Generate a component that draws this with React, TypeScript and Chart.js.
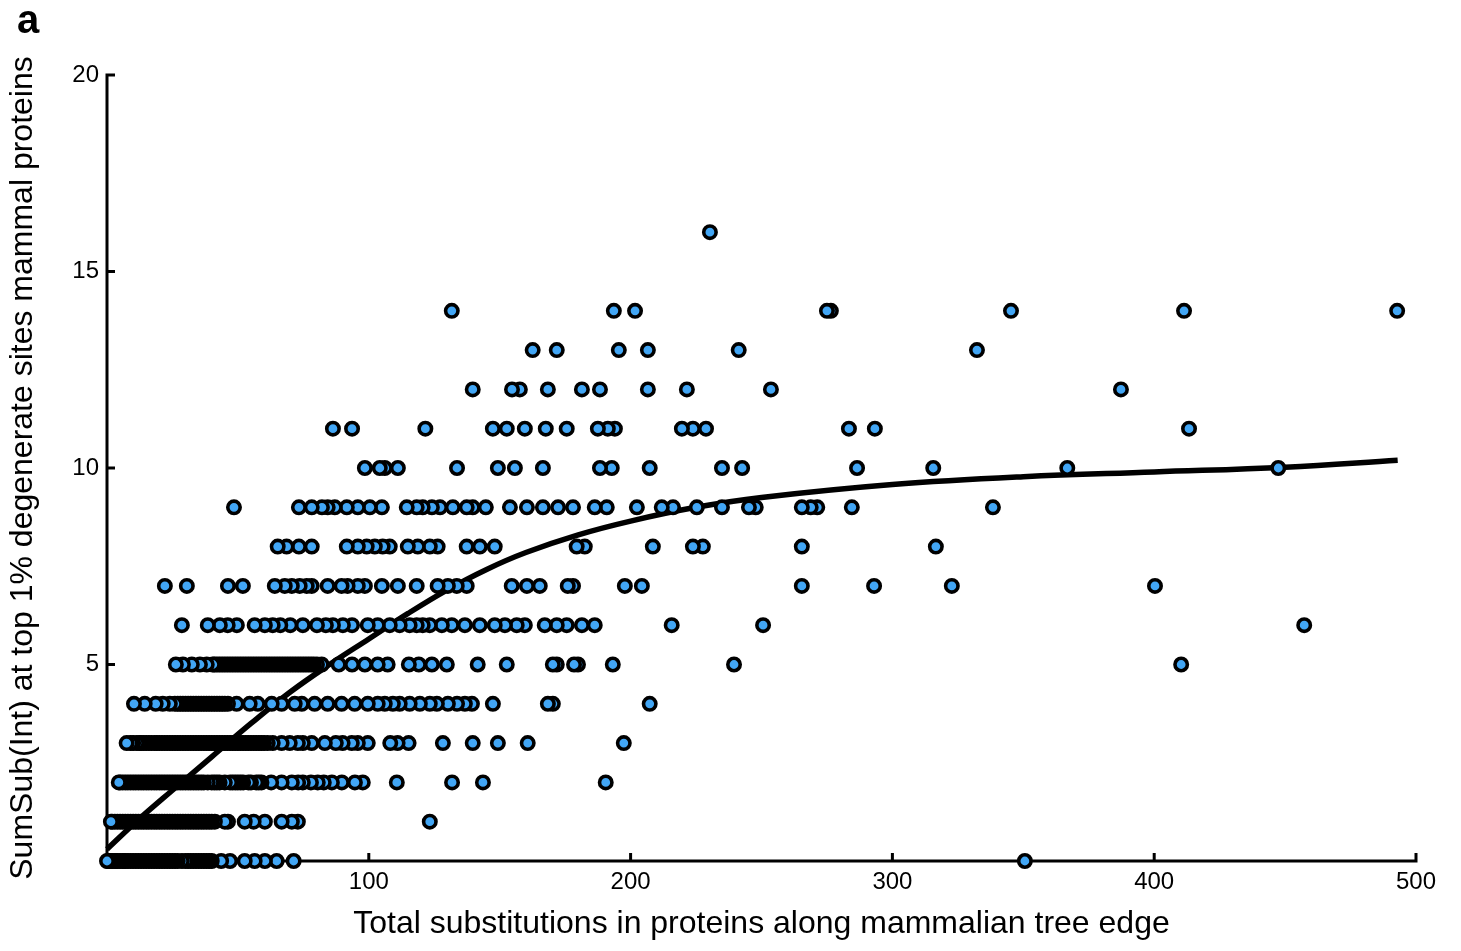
import React, { useEffect, useRef } from 'react';
import { Chart, registerables } from 'chart.js';

Chart.register(...registerables);

// ---- Data ----
const xTickValues = [100, 200, 300, 400, 500];
const yTickValues = [5, 10, 15, 20];

const yLevels = [0, 1, 2, 3, 4, 5, 6, 7, 8, 9, 10, 11, 12, 13, 14, 16];

const row0 = [0, 0.5, 1, 1.5, 2, 3, 3.5, 4, 5, 6, 6.5, 7, 8, 9, 10, 11, 12, 13, 14, 15, 16, 17, 18, 19, 20, 21, 22, 23, 24, 25, 26, 27, 28.6, 30, 31, 32, 33, 34, 35, 36, 37, 38, 39, 40, 43.6, 47, 52.6, 56.4, 60.3, 64.8, 71.3, 350.6];
const row1 = [1.5, 2, 3, 4, 5, 6, 7, 8, 9, 10, 11, 12, 13, 14, 15, 16, 17, 18, 19, 20, 21, 22, 23, 24, 25, 26, 27, 28, 29, 30, 31, 32, 33, 34, 35, 36, 37, 38, 39, 40, 41.2, 45, 46.2, 52.6, 56, 60.3, 66.7, 70.6, 72.9, 123.3];
const row2 = [4.5, 5, 6, 7, 8, 9, 10, 11, 12, 13, 14, 15, 16, 17, 18, 19, 20, 21, 22, 23, 24, 25, 26, 27, 28, 29, 30, 31, 32, 33, 34, 35, 36, 37, 38.5, 40, 41, 42, 43, 45, 47, 48, 49, 50, 51, 52, 54, 55, 57, 58, 59, 62.7, 66.7, 70.6, 73, 74.8, 77.9, 80.5, 82.8, 85.9, 89.7, 94.7, 97.7, 110.7, 131.8, 143.6, 190.5];
const row3 = [7.5, 9, 10, 11.4, 12.5, 13, 14, 15, 16, 17, 18.2, 19, 20, 21, 22, 23, 24, 25, 26, 27, 28, 29, 30, 31, 32, 33, 34, 35, 36, 37, 38, 39, 40, 41, 42, 43, 44, 45, 46, 47, 48, 49, 50, 51, 52, 53, 54, 55, 56, 57, 58, 59, 60, 61.4, 63.3, 66.7, 69.8, 72.9, 74.8, 78.2, 83.2, 87.4, 90, 93.5, 95.8, 99.6, 108.2, 111, 115.2, 128.3, 139.7, 149.3, 160.7, 197.4];
const row4 = [10.3, 14.4, 18.6, 21.3, 24, 25.9, 27, 28, 29, 30, 31, 32, 33, 34, 35, 36, 37, 38, 39, 40, 41, 42, 43, 44, 45, 46.2, 49.5, 54.5, 57.6, 62.9, 66.7, 71.7, 74.4, 79.3, 84.3, 89.6, 94.6, 99.6, 103.4, 106.1, 109.2, 111.8, 115.6, 119.5, 123.3, 126, 130.2, 133.7, 136.7, 139.4, 147.4, 168.4, 170.3, 207.3];
const row5 = [26.3, 29, 32.4, 35.5, 38.1, 40.4, 41, 42, 43, 44, 45, 46, 47, 48, 49, 50, 51, 52, 53, 54, 55, 56, 57, 58, 59, 60, 61, 62, 63, 64, 65, 66, 67, 68, 69, 70, 71, 72, 73, 74, 75, 76, 77, 78, 79, 80.2, 82, 88.5, 93.6, 98.5, 103.4, 107.2, 115.3, 119.1, 124.1, 129.8, 141.6, 152.7, 170.3, 171.8, 178.4, 179.9, 193.2, 239.5, 410.3];
const row6 = [28.6, 38.5, 43.1, 46.1, 49.6, 56.4, 60.3, 63.3, 66.2, 70, 74.8, 80.2, 83.6, 86.3, 90.1, 93.6, 99.6, 103.4, 108, 111.8, 115.6, 118.3, 120.6, 123.3, 127.9, 131.7, 136.7, 142.4, 148.1, 152, 156.5, 159.6, 167.2, 171.8, 175.6, 181.4, 186.3, 215.7, 250.6, 457.3];
const row7 = [22.1, 30.5, 46.2, 51.9, 64.1, 67.9, 70.6, 73.6, 76.3, 78.2, 84.3, 89.6, 91.9, 95.8, 98.5, 105, 111.1, 118.3, 126.3, 130.2, 133.6, 137.4, 154.6, 160.4, 165.3, 176, 178, 197.8, 204.3, 265.4, 293, 322.7, 400.3];
const row8 = [65.2, 68.6, 73.3, 78.2, 91.6, 95.8, 99.2, 102.3, 105.3, 108, 114.9, 118.7, 123.3, 126.3, 137.4, 142.4, 148.1, 179.4, 182.5, 208.5, 223.8, 227.6, 265.4, 316.6];
const row9 = [48.5, 73.3, 78.2, 82.1, 84.3, 87, 91.6, 95.8, 100.4, 105, 114.5, 118.3, 120.6, 124.1, 127.2, 132.1, 137.4, 139.7, 144.7, 153.9, 160.4, 166.5, 172.3, 178, 186.3, 190.9, 202.4, 211.9, 216.2, 225.3, 234.9, 245.2, 247.8, 265.4, 268.8, 271.3, 284.5, 338.4];
const row10 = [98.5, 104.2, 106.1, 111.1, 133.7, 149.3, 155.8, 166.5, 188.3, 192.8, 207.3, 234.9, 242.6, 286.5, 315.6, 366.8, 447.4];
const row11 = [86.3, 93.6, 121.6, 147.4, 152.7, 159.6, 167.6, 175.6, 187.5, 191.3, 194, 219.6, 223.8, 228.8, 283.4, 293.3, 413.3];
const row12 = [139.7, 154.7, 157.7, 168.4, 181.4, 188.3, 206.6, 221.5, 253.6, 387.3];
const row13 = [162.6, 171.8, 195.5, 206.6, 241.3, 332.3];
const row14 = [131.7, 193.6, 201.7, 275, 276.5, 345.3, 411.4, 492.8];
const row16 = [230.3];

const rowXs = [row0, row1, row2, row3, row4, row5, row6, row7, row8, row9, row10, row11, row12, row13, row14, row16];

// fitted curve
const fitX = [0, 12, 25, 40, 55, 70, 85, 100, 115, 130, 145, 160, 180, 200, 225, 250, 300, 350, 400, 450, 493];
const fitY = [0.3, 1.05, 1.8, 2.65, 3.5, 4.3, 5.0, 5.65, 6.3, 6.9, 7.42, 7.85, 8.3, 8.65, 9.0, 9.25, 9.58, 9.78, 9.9, 10.02, 10.2];

const FONT = "'Liberation Sans', Arial, Helvetica, sans-serif";

export default function App() {
  const ref = useRef<HTMLCanvasElement>(null);

  useEffect(() => {
    if (!ref.current) return;
    const points: { x: number; y: number }[] = [];
    yLevels.forEach((lv, i) => {
      const xs = rowXs[i].slice().reverse();
      xs.forEach((x) => points.push({ x, y: lv }));
    });
    const fit = fitX.map((x, i) => ({ x, y: fitY[i] }));

    const axesPlugin = {
      id: 'inwardAxes',
      beforeDatasetsDraw(chart: any) {
        const { ctx, chartArea, scales } = chart;
        const xs = scales.x;
        const ys = scales.y;
        ctx.save();
        ctx.strokeStyle = '#000';
        ctx.lineWidth = 3;
        ctx.lineCap = 'butt';
        ctx.beginPath();
        ctx.moveTo(chartArea.left, chartArea.top - 1.5);
        ctx.lineTo(chartArea.left, chartArea.bottom + 1.5);
        ctx.moveTo(chartArea.left - 1.5, chartArea.bottom);
        ctx.lineTo(chartArea.right + 1.5, chartArea.bottom);
        xTickValues.forEach((v) => {
          const px = xs.getPixelForValue(v);
          ctx.moveTo(px, chartArea.bottom);
          ctx.lineTo(px, chartArea.bottom - 8);
        });
        yTickValues.forEach((v) => {
          const py = ys.getPixelForValue(v);
          ctx.moveTo(chartArea.left, py);
          ctx.lineTo(chartArea.left + 8, py);
        });
        ctx.stroke();
        ctx.restore();
      },
      afterDraw(chart: any) {
        const { ctx } = chart;
        ctx.save();
        ctx.fillStyle = '#000';
        ctx.font = `bold 40px ${FONT}`;
        ctx.textBaseline = 'alphabetic';
        ctx.textAlign = 'left';
        ctx.fillText('a', 17, 33);
        ctx.restore();
      },
    };

    const chart = new Chart(ref.current, {
      type: 'scatter',
      data: {
        datasets: [
          {
            label: 'edges',
            data: points,
            pointRadius: 6.2,
            pointHoverRadius: 6.2,
            pointBorderWidth: 3.6,
            pointBackgroundColor: '#42a6f5',
            pointBorderColor: '#000000',
            showLine: false,
            clip: false,
          },
          {
            label: 'fit',
            data: fit,
            showLine: true,
            pointRadius: 0,
            borderColor: '#000000',
            borderWidth: 5.5,
            tension: 0.4,
            fill: false,
            clip: false,
          },
        ],
      },
      options: {
        responsive: false,
        animation: false,
        devicePixelRatio: 1,
        events: [],
        layout: {
          autoPadding: false,
          padding: { left: 0, top: 75, right: 45, bottom: 0 },
        },
        plugins: {
          legend: { display: false },
          tooltip: { enabled: false },
        },
        scales: {
          x: {
            type: 'linear',
            min: 0,
            max: 500,
            grid: { display: false, drawTicks: false },
            border: { display: false },
            afterBuildTicks: (s: any) => {
              s.ticks = xTickValues.map((v) => ({ value: v }));
            },
            afterFit: (s: any) => {
              s.height = 90;
            },
            ticks: {
              color: '#000',
              padding: 7,
              font: { family: FONT, size: 24 },
              maxRotation: 0,
            },
            title: {
              display: true,
              text: 'Total substitutions in proteins along mammalian tree edge',
              color: '#000',
              font: { family: FONT, size: 32 },
              padding: { top: 0, bottom: 8 },
            },
          },
          y: {
            type: 'linear',
            min: 0,
            max: 20,
            grid: { display: false, drawTicks: false },
            border: { display: false },
            afterBuildTicks: (s: any) => {
              s.ticks = yTickValues.map((v) => ({ value: v }));
            },
            afterFit: (s: any) => {
              s.width = 107;
            },
            ticks: {
              color: '#000',
              padding: 8,
              font: { family: FONT, size: 24 },
            },
            title: {
              display: true,
              text: 'SumSub(Int) at top 1% degenerate sites mammal proteins',
              color: '#000',
              font: { family: FONT, size: 32 },
              padding: { top: 4, bottom: 0 },
            },
          },
        },
      },
      plugins: [axesPlugin],
    } as any);

    return () => chart.destroy();
  }, []);

  return (
    <div style={{ position: 'absolute', left: 0, top: 0, width: 1461, height: 951, background: '#fff' }}>
      <canvas ref={ref} width={1461} height={951} style={{ display: 'block', width: 1461, height: 951 }} />
    </div>
  );
}
